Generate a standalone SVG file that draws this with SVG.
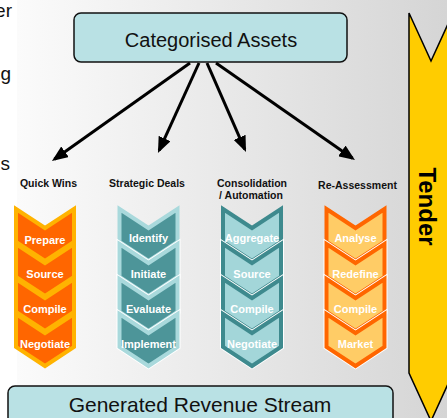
<svg xmlns="http://www.w3.org/2000/svg" width="447" height="418" viewBox="0 0 447 418">
<defs>
<linearGradient id="bg" x1="0" y1="0" x2="1" y2="0">
<stop offset="0" stop-color="#fbfbfb"/>
<stop offset="1" stop-color="#d5d5d5"/>
</linearGradient>
<marker id="ah" markerUnits="userSpaceOnUse" markerWidth="16" markerHeight="13" viewBox="0 0 16 13" refX="13" refY="6.5" orient="auto">
<path d="M0,0 L16,6.5 L0,13 Z" fill="#000"/>
</marker>
<path id="chev" d="M0,0 L29,19 L58,0 L58,33 L29,52 L0,33 Z"/>
</defs>
<style>
.box{fill:#b9e1e4;stroke:#111;stroke-width:1.5}
.big{font-family:"Liberation Sans",Arial,sans-serif;fill:#111;text-anchor:middle}
.hdr{font-family:"Liberation Sans",Arial,sans-serif;font-weight:bold;font-size:10.5px;fill:#111;text-anchor:middle}
.lbl{font-family:"Liberation Sans",Arial,sans-serif;font-weight:bold;font-size:11px;fill:#fff;text-anchor:middle}
.edge{fill:none;stroke:#000;stroke-width:3}
.wh{fill:none;stroke:#fff;stroke-width:6;stroke-linejoin:miter}
.c1{fill:#ff6600;stroke:#ffb300;stroke-width:4}
.c2{fill:#4d9599;stroke:#a9d9dc;stroke-width:4}
.c3{fill:#a3d6d9;stroke:#3e8a8e;stroke-width:4}
.c4{fill:#ffcc66;stroke:#ff6600;stroke-width:4}
.frag{font-family:"Liberation Sans",Arial,sans-serif;font-size:19px;fill:#111;text-anchor:end}
</style>
<rect x="0" y="0" width="447" height="418" fill="#fff"/>
<rect x="17" y="0" width="430" height="418" fill="url(#bg)"/>
<text class="frag" x="12" y="17">er</text>
<text class="frag" x="11" y="80">g</text>
<text class="frag" x="10" y="170">s</text>

<g id="tender">
<polygon points="409,13 431,61 453,13 453,373 431,421 409,373" fill="#ffcc00" stroke="#000" stroke-width="1.5"/>
<text transform="translate(419,206.5) rotate(90)" x="0" y="0" font-family="Liberation Sans, Arial, sans-serif" font-weight="bold" font-size="24" text-anchor="middle" fill="#000">Tender</text>
</g>

<g id="categorised-assets">
<rect class="box" x="74" y="13" width="273" height="49" rx="7"/>
<text class="big" x="211" y="46.5" font-size="20">Categorised Assets</text>
</g>

<g id="connectors">
<line class="edge" x1="190" y1="63" x2="54.4" y2="159.3" marker-end="url(#ah)"/>
<line class="edge" x1="199" y1="63" x2="159.2" y2="150.3" marker-end="url(#ah)"/>
<line class="edge" x1="207" y1="63" x2="244.8" y2="149.3" marker-end="url(#ah)"/>
<line class="edge" x1="216" y1="63" x2="352.5" y2="158.3" marker-end="url(#ah)"/>
</g>

<g id="quick-wins">
<text class="hdr" x="48.5" y="186.5">Quick Wins</text>
<g transform="translate(16,209)">
<use href="#chev" class="c1"/>
<text class="lbl" x="29" y="34.5">Prepare</text>
<use href="#chev" class="c1" y="35"/>
<text class="lbl" x="29" y="69">Source</text>
<use href="#chev" class="c1" y="70"/>
<text class="lbl" x="29" y="104">Compile</text>
<use href="#chev" class="c1" y="105"/>
<text class="lbl" x="29" y="139">Negotiate</text>
</g>
</g>

<g id="strategic-deals">
<text class="hdr" x="147" y="186.5">Strategic Deals</text>
<g transform="translate(119.5,209)">
<use href="#chev" class="c2"/>
<text class="lbl" x="29" y="33">Identify</text>
<use href="#chev" class="wh" y="35"/>
<use href="#chev" class="c2" y="35"/>
<text class="lbl" x="29" y="69">Initiate</text>
<use href="#chev" class="wh" y="70"/>
<use href="#chev" class="c2" y="70"/>
<text class="lbl" x="29" y="104">Evaluate</text>
<use href="#chev" class="wh" y="105"/>
<use href="#chev" class="c2" y="105"/>
<text class="lbl" x="29" y="139">Implement</text>
</g>
</g>

<g id="consolidation">
<text class="hdr" x="252" y="186.5">Consolidation</text>
<text class="hdr" x="251" y="198.5">/ Automation</text>
<g transform="translate(223,209)">
<use href="#chev" class="c3"/>
<text class="lbl" x="29" y="33">Aggregate</text>
<use href="#chev" class="wh" y="35"/>
<use href="#chev" class="c3" y="35"/>
<text class="lbl" x="29" y="69">Source</text>
<use href="#chev" class="wh" y="70"/>
<use href="#chev" class="c3" y="70"/>
<text class="lbl" x="29" y="104">Compile</text>
<use href="#chev" class="wh" y="105"/>
<use href="#chev" class="c3" y="105"/>
<text class="lbl" x="29" y="139">Negotiate</text>
</g>
</g>

<g id="re-assessment">
<text class="hdr" x="357.5" y="188.5">Re-Assessment</text>
<g transform="translate(326.5,209)">
<use href="#chev" class="c4"/>
<text class="lbl" x="29" y="33">Analyse</text>
<use href="#chev" class="wh" y="35"/>
<use href="#chev" class="c4" y="35"/>
<text class="lbl" x="29" y="69">Redefine</text>
<use href="#chev" class="wh" y="70"/>
<use href="#chev" class="c4" y="70"/>
<text class="lbl" x="29" y="104">Compile</text>
<use href="#chev" class="wh" y="105"/>
<use href="#chev" class="c4" y="105"/>
<text class="lbl" x="29" y="139">Market</text>
</g>
</g>

<g id="generated-revenue">
<rect class="box" x="8" y="386" width="385" height="50" rx="7"/>
<text class="big" x="200" y="411.5" font-size="21">Generated Revenue Stream</text>
</g>
</svg>
